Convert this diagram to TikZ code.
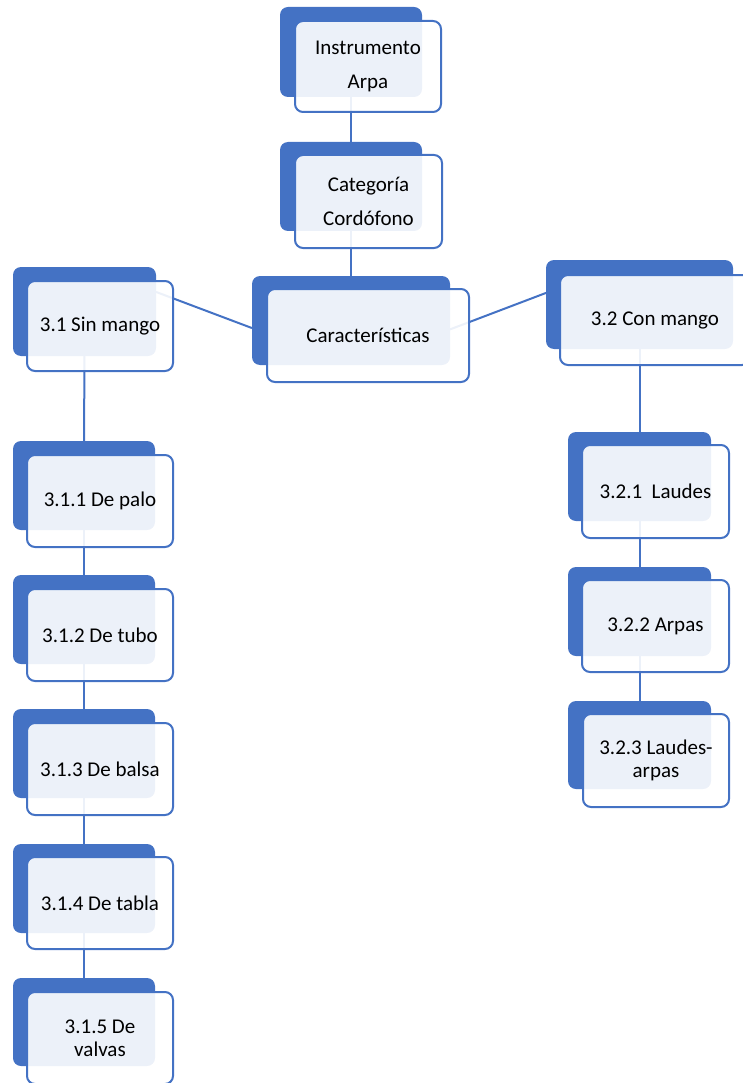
\documentclass[tikz,border=0pt]{standalone}
\usepackage{fontspec}
\setmainfont{Carlito}
\usetikzlibrary{calc}
\definecolor{myblue}{HTML}{4472C4}
\pgfdeclarelayer{bg}
\pgfsetlayers{bg,main}
\tikzset{
  backbox/.style={fill=myblue, draw=none, rounded corners=8pt, anchor=north west, inner sep=0pt, outer sep=0pt},
  frontbox/.style={draw=myblue, line width=2pt, fill=white, fill opacity=0.9, text opacity=1, text=black,
    rounded corners=8pt, anchor=north west, inner sep=0pt, outer sep=0pt, align=center,
    font=\fontsize{21}{34}\selectfont},
  tightbox/.style={frontbox, font=\fontsize{21}{23}\selectfont},
  link/.style={draw=myblue, line width=2pt}
}
\begin{document}
\begin{tikzpicture}[x=1pt,y=-1pt]
\useasboundingbox (0,0) rectangle (743,1083);
% Instrumento
\node[backbox, minimum width=142pt, minimum height=90pt] (ib) at (280,7) {};
\node[frontbox, minimum width=146pt, minimum height=91pt] (if) at (295,21) {\raisebox{-3pt}{Instrumento}\\\raisebox{-3pt}{Arpa}};
% Categoria
\node[backbox, minimum width=142pt, minimum height=89pt] (cb) at (280,142) {};
\node[frontbox, minimum width=147pt, minimum height=93pt] (cf) at (295,155) {Categoría\\Cordófono};
% Caracteristicas
\node[backbox, minimum width=198pt, minimum height=89pt] (kb) at (252,276) {};
\node[frontbox, minimum width=202pt, minimum height=93pt] (kf) at (267,289) {Características};
% 3.1
\node[backbox, minimum width=143pt, minimum height=89pt] (s1b) at (13,267) {};
\node[frontbox, minimum width=146pt, minimum height=90pt] (s1f) at (27,281) {3.1 Sin mango};
% 3.2
\node[backbox, minimum width=187pt, minimum height=89pt] (c2b) at (546,260) {};
\node[frontbox, minimum width=190pt, minimum height=90pt] (c2f) at (560,275) {3.2 Con mango};
% left column
\node[backbox, minimum width=142pt, minimum height=89pt] (a1b) at (13,441) {};
\node[frontbox, minimum width=146pt, minimum height=92pt] (a1f) at (27,455) {3.1.1 De palo};
\node[backbox, minimum width=142pt, minimum height=89pt] (a2b) at (13,575) {};
\node[frontbox, minimum width=146pt, minimum height=92pt] (a2f) at (27,589) {3.1.2 De tubo};
\node[backbox, minimum width=142pt, minimum height=89pt] (a3b) at (13,709) {};
\node[frontbox, minimum width=146pt, minimum height=92pt] (a3f) at (27,723) {3.1.3 De balsa};
\node[backbox, minimum width=142pt, minimum height=89pt] (a4b) at (13,844) {};
\node[frontbox, minimum width=146pt, minimum height=92pt] (a4f) at (27,857) {3.1.4 De tabla};
\node[backbox, minimum width=142pt, minimum height=88pt] (a5b) at (13,978) {};
\node[tightbox, minimum width=146pt, minimum height=92pt] (a5f) at (27,992) {3.1.5 De\\valvas};
% right column
\node[backbox, minimum width=143pt, minimum height=89pt] (b1b) at (568,432) {};
\node[frontbox, minimum width=147pt, minimum height=93pt] (b1f) at (582,445) {3.2.1\ \ Laudes};
\node[backbox, minimum width=143pt, minimum height=89pt] (b2b) at (568,567) {};
\node[frontbox, minimum width=147pt, minimum height=92pt] (b2f) at (582,580) {3.2.2 Arpas};
\node[backbox, minimum width=143pt, minimum height=88pt] (b3b) at (568,701) {};
\node[tightbox, minimum width=146pt, minimum height=93pt] (b3f) at (583,714) {3.2.3 Laudes-\\arpas};
\begin{pgfonlayer}{bg}
\draw[link] (ib.south) -- (cb.north);
\draw[link] (cb.south) -- (kb.north);
\draw[link] ($(s1b.north east)!0.28!(s1b.south east)$) -- ($(kb.north west)!0.585!(kb.south west)$);
\draw[link] ($(kb.north east)!0.6!(kb.south east)$) -- ($(c2b.north west)!0.37!(c2b.south west)$);
\draw[link] (s1b.south) -- (a1b.north);
\draw[link] (a1b.south) -- (a2b.north);
\draw[link] (a2b.south) -- (a3b.north);
\draw[link] (a3b.south) -- (a4b.north);
\draw[link] (a4b.south) -- (a5b.north);
\draw[link] (c2b.south) -- (b1b.north);
\draw[link] (b1b.south) -- (b2b.north);
\draw[link] (b2b.south) -- (b3b.north);
\end{pgfonlayer}
\end{tikzpicture}
\end{document}
